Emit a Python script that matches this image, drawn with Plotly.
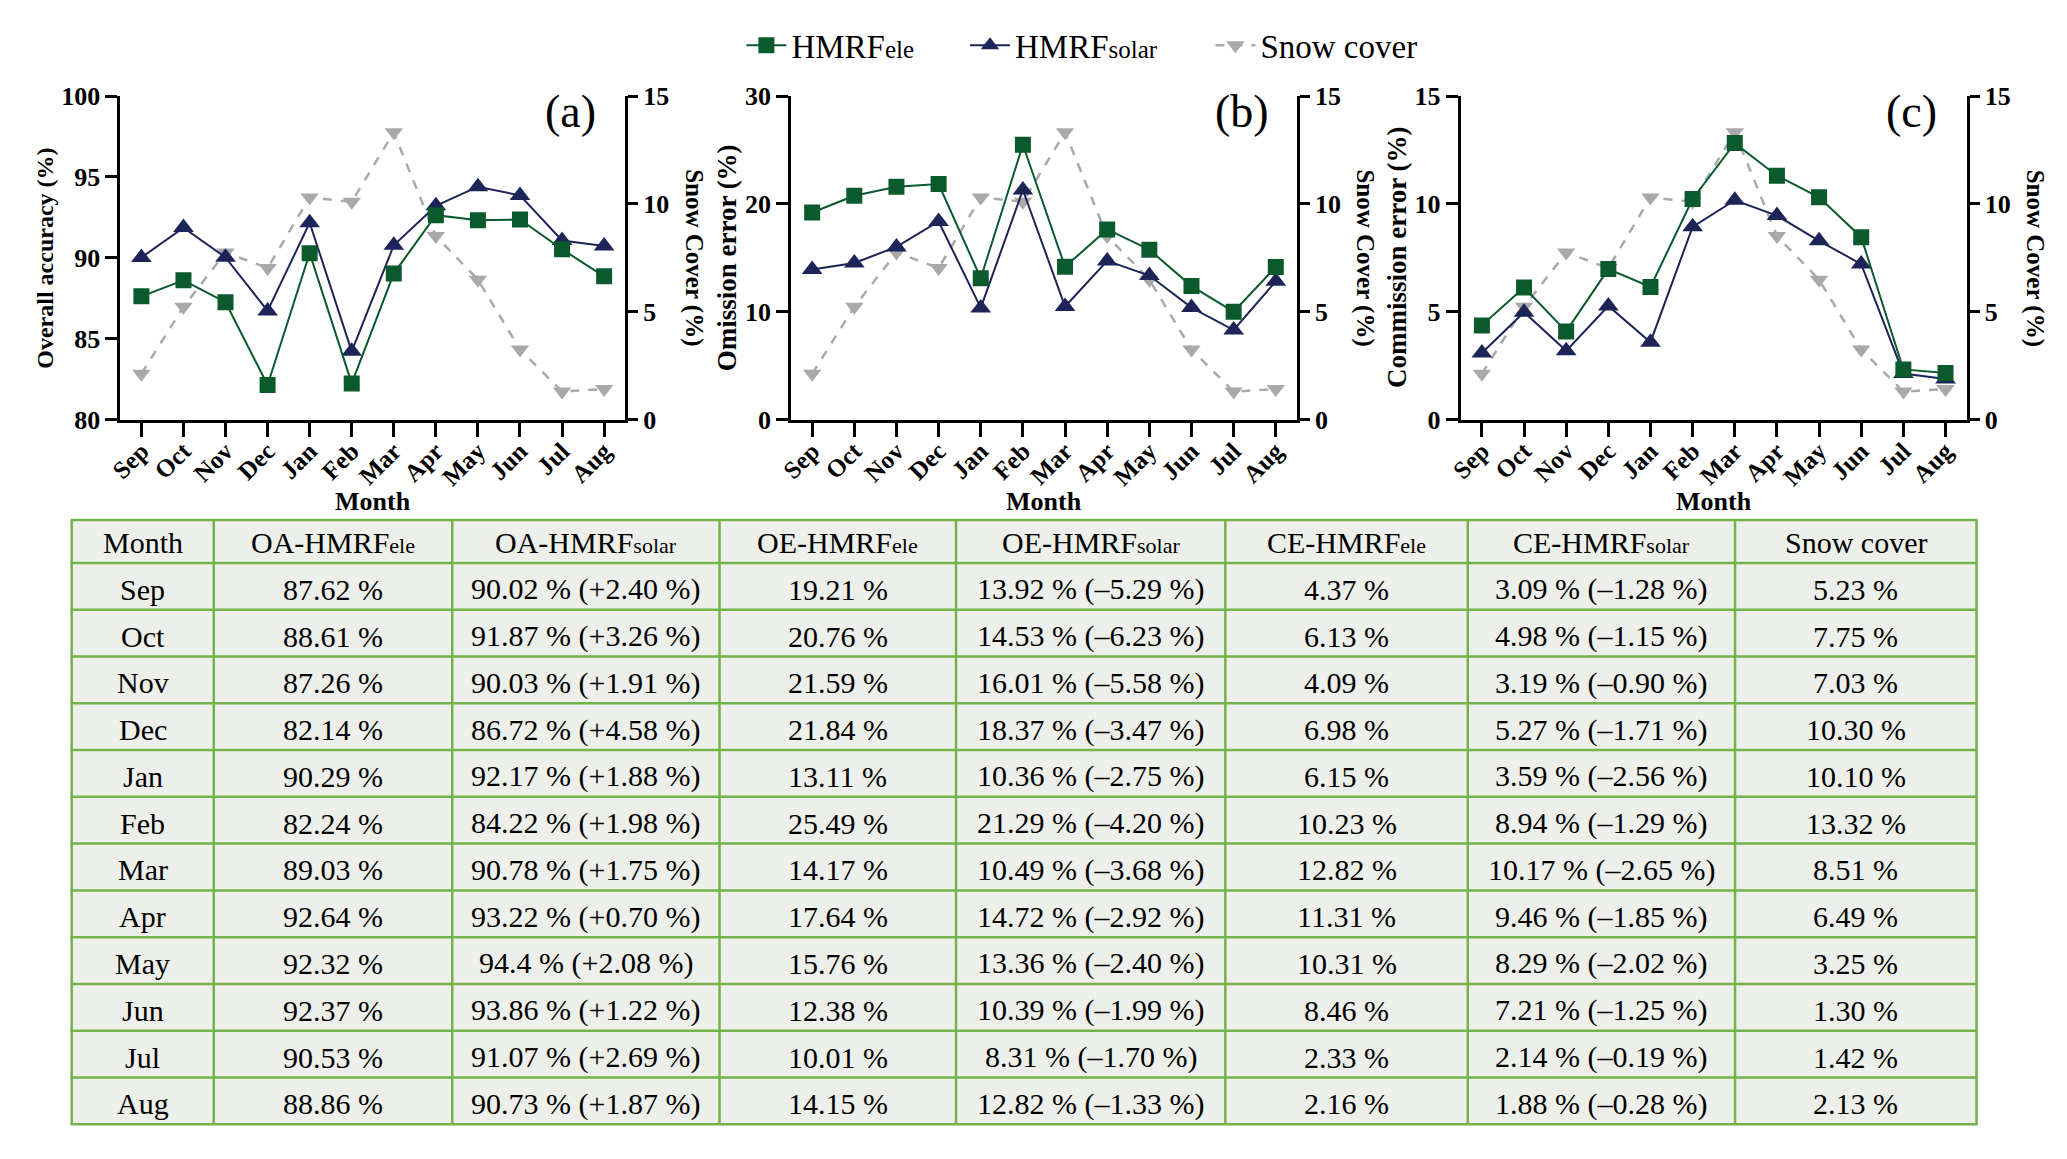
import plotly.graph_objects as go

# page coordinates of the screenshot (the browser keeps its default 8px body margin)
PAGE_W, PAGE_H = 2067, 1159
OFF = 8
WF, HF = PAGE_W - 2 * OFF, PAGE_H - 2 * OFF

months = ["Sep", "Oct", "Nov", "Dec", "Jan", "Feb", "Mar", "Apr", "May", "Jun", "Jul", "Aug"]
oa_ele = [87.62, 88.61, 87.26, 82.14, 90.29, 82.24, 89.03, 92.64, 92.32, 92.37, 90.53, 88.86]
oa_solar = [90.02, 91.87, 90.03, 86.72, 92.17, 84.22, 90.78, 93.22, 94.4, 93.86, 91.07, 90.73]
oa_solar_places = [2, 2, 2, 2, 2, 2, 2, 2, 1, 2, 2, 2]
oa_diff = [2.40, 3.26, 1.91, 4.58, 1.88, 1.98, 1.75, 0.70, 2.08, 1.22, 2.69, 1.87]
oe_ele = [19.21, 20.76, 21.59, 21.84, 13.11, 25.49, 14.17, 17.64, 15.76, 12.38, 10.01, 14.15]
oe_solar = [13.92, 14.53, 16.01, 18.37, 10.36, 21.29, 10.49, 14.72, 13.36, 10.39, 8.31, 12.82]
oe_diff = [-5.29, -6.23, -5.58, -3.47, -2.75, -4.20, -3.68, -2.92, -2.40, -1.99, -1.70, -1.33]
ce_ele = [4.37, 6.13, 4.09, 6.98, 6.15, 10.23, 12.82, 11.31, 10.31, 8.46, 2.33, 2.16]
ce_solar = [3.09, 4.98, 3.19, 5.27, 3.59, 8.94, 10.17, 9.46, 8.29, 7.21, 2.14, 1.88]
ce_diff = [-1.28, -1.15, -0.90, -1.71, -2.56, -1.29, -2.65, -1.85, -2.02, -1.25, -0.19, -0.28]
snow_table = [5.23, 7.75, 7.03, 10.30, 10.10, 13.32, 8.51, 6.49, 3.25, 1.30, 1.42, 2.13]
snow_plot = [2.13, 5.23, 7.75, 7.03, 10.30, 10.10, 13.32, 8.51, 6.49, 3.25, 1.30, 1.42]

panel_labels = ["(a)", "(b)", "(c)"]
left_titles = ["Overall accuracy (%)", "Omission error (%)", "Commission error (%)"]
left_ranges = [[80, 100], [0, 30], [0, 15]]
left_ticks = [[80, 85, 90, 95, 100], [0, 10, 20, 30], [0, 5, 10, 15]]
snow_ticks = [0, 5, 10, 15]

FONT = "Liberation Serif"
GREEN = "#0b5a2c"
NAVY = "#1c2458"
GRAY = "#a9a9ab"
TGREEN = "#74b24a"
TFILL = "#edf0ea"

def px(x):
    return (x - OFF) / WF

def py(y):
    return 1 - (y - OFF) / HF

def small(t, size):
    return f"<span style='font-size:{size}px'>{t}</span>"

panel_px = [(108, 616), (783, 1292), (1457, 1966)]
top_px, bot_px = 84, 416
left_title_x = [32, 718, 1393]
right_title_x = [685, 1361, 2035]
legend_x = [733, 958, 1205]

series = [(oa_ele, oa_solar), (oe_ele, oe_solar), (ce_ele, ce_solar)]

fig = go.Figure()
ann = []
shapes = []
for i in range(3):
    n = i + 1
    xname = "x" if n == 1 else f"x{n}"
    ys = 2 * i + 1
    yo = 2 * i + 2
    ysname = "y" if ys == 1 else f"y{ys}"
    yoname = f"y{yo}"
    ele, sol = series[i]
    fig.add_trace(go.Scatter(
        x=months, y=snow_plot, xaxis=xname, yaxis=ysname, name="Snow cover",
        mode="lines+markers", line=dict(color=GRAY, width=2.5, dash="dash"),
        marker=dict(symbol="triangle-down", size=16, color=GRAY),
        showlegend=(i == 0), legend="legend3"))
    fig.add_trace(go.Scatter(
        x=months, y=sol, xaxis=xname, yaxis=yoname,
        name="HMRF" + small("solar", 25),
        mode="lines+markers", line=dict(color=NAVY, width=2),
        marker=dict(symbol="triangle-up", size=18, color=NAVY),
        showlegend=(i == 0), legend="legend2"))
    fig.add_trace(go.Scatter(
        x=months, y=ele, xaxis=xname, yaxis=yoname,
        name="HMRF" + small("ele", 25),
        mode="lines+markers", line=dict(color=GREEN, width=2),
        marker=dict(symbol="square", size=16, color=GREEN),
        showlegend=(i == 0), legend="legend"))

    x0, x1 = panel_px[i]
    dom_x = [px(x0), px(x1)]
    dom_y = [py(bot_px), py(top_px)]
    axis_common = dict(showline=True, linewidth=3, linecolor="black", ticks="outside",
                       tickwidth=3, tickcolor="black", showgrid=False, zeroline=False,
                       tickfont=dict(family=FONT, size=26, color="black", weight="bold"))
    fig.layout["xaxis" if n == 1 else f"xaxis{n}"] = dict(
        domain=dom_x, anchor=ysname, type="category", categoryorder="array",
        categoryarray=months, range=[-0.5, 11.5], tickmode="array", tickvals=months,
        tickangle=-45, ticklen=14, ticklabelstandoff=-10,
        **{**axis_common, "tickfont": dict(family=FONT, size=25, color="black", weight="bold")})
    fig.layout["yaxis" if ys == 1 else f"yaxis{ys}"] = dict(
        domain=dom_y, anchor=xname, side="right", range=[0, 15], tickvals=snow_ticks,
        ticklen=10, **axis_common)
    fig.layout[f"yaxis{yo}"] = dict(
        domain=dom_y, anchor=xname, overlaying=ysname, side="left", range=left_ranges[i],
        tickvals=left_ticks[i], ticklen=12, **axis_common)

    common = dict(xref="paper", yref="paper", showarrow=False, xanchor="center", yanchor="middle")
    ann.append(dict(text=left_titles[i], x=px(left_title_x[i]), y=py(250), textangle=-90,
                    font=dict(family=FONT, size=24 if i == 0 else 27, color="black", weight="bold"),
                    **common))
    ann.append(dict(text="Snow Cover (%)", x=px(right_title_x[i]), y=py(250), textangle=90,
                    font=dict(family=FONT, size=25, color="black", weight="bold"), **common))
    ann.append(dict(text="Month", x=px((x0 + x1) / 2), y=py(500),
                    font=dict(family=FONT, size=26, color="black", weight="bold"), **common))
    ann.append(dict(text=panel_labels[i], x=px(x1 - 55), y=py(100),
                    font=dict(family=FONT, size=46, color="black"), **common))

# ---- table ----
def f2(v, p=2):
    return f"{v:.{p}f} %"

def fd(d):
    s = "+" if d >= 0 else "\u2013"
    return f"({s}{abs(d):.2f} %)"

headers = ["Month", "OA-HMRF" + small("ele", 22), "OA-HMRF" + small("solar", 22),
           "OE-HMRF" + small("ele", 22), "OE-HMRF" + small("solar", 22),
           "CE-HMRF" + small("ele", 22), "CE-HMRF" + small("solar", 22), "Snow cover"]
cols = [
    months,
    [f2(v) for v in oa_ele],
    [f"{f2(v, p)} {fd(d)}" for v, p, d in zip(oa_solar, oa_solar_places, oa_diff)],
    [f2(v) for v in oe_ele],
    [f"{f2(v)} {fd(d)}" for v, d in zip(oe_solar, oe_diff)],
    [f2(v) for v in ce_ele],
    [f"{f2(v)} {fd(d)}" for v, d in zip(ce_solar, ce_diff)],
    [f2(v) for v in snow_table],
]

col_edges = [59, 202, 442, 711, 949, 1220, 1464, 1733, 1976]
tab_top, head_h, row_h = 519, 44, 48
row_edges = [tab_top, tab_top + head_h] + [tab_top + head_h + row_h * (k + 1) for k in range(len(months))]

shapes.append(dict(type="rect", xref="paper", yref="paper", x0=px(col_edges[0]), x1=px(col_edges[-1]),
                   y0=py(row_edges[-1]), y1=py(row_edges[0]), fillcolor=TFILL, line=dict(width=0),
                   layer="below"))
for yv in row_edges:
    shapes.append(dict(type="line", xref="paper", yref="paper", x0=px(col_edges[0] - 1),
                       x1=px(col_edges[-1] + 1), y0=py(yv), y1=py(yv),
                       line=dict(color=TGREEN, width=2.5)))
for xv in col_edges:
    shapes.append(dict(type="line", xref="paper", yref="paper", x0=px(xv), x1=px(xv),
                       y0=py(row_edges[-1]), y1=py(row_edges[0]),
                       line=dict(color=TGREEN, width=2.5)))

tcommon = dict(xref="paper", yref="paper", showarrow=False, xanchor="center", yanchor="middle",
               font=dict(family=FONT, size=30, color="black"))
for c in range(len(headers)):
    xc = (col_edges[c] + col_edges[c + 1]) / 2
    ann.append(dict(text=headers[c], x=px(xc), y=py((row_edges[0] + row_edges[1]) / 2 + 1), **tcommon))
    for r in range(len(months)):
        yc = (row_edges[r + 1] + row_edges[r + 2]) / 2 + 3
        ann.append(dict(text=cols[c][r], x=px(xc), y=py(yc), **tcommon))

leg_common = dict(orientation="h", y=py(32), xanchor="left", yanchor="middle",
                  font=dict(family=FONT, size=33, color="black"), itemwidth=40,
                  bgcolor="rgba(0,0,0,0)")
fig.update_layout(
    width=WF, height=HF, margin=dict(l=0, r=0, t=0, b=0),
    paper_bgcolor="white", plot_bgcolor="white",
    font=dict(family=FONT, color="black"),
    legend=dict(x=px(legend_x[0]), **leg_common),
    legend2=dict(x=px(legend_x[1]), **leg_common),
    legend3=dict(x=px(legend_x[2]), **leg_common),
    annotations=ann,
    shapes=shapes,
)

fig.write_html("out.html")
